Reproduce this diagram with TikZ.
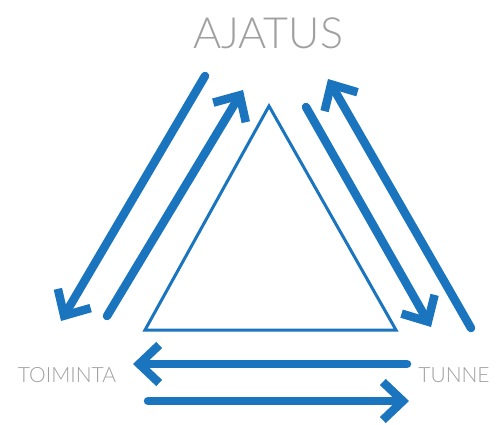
\documentclass[tikz,border=0pt]{standalone}
\usepackage{fontspec}
\setmainfont{Lato Light}
\usetikzlibrary{arrows.meta}
\definecolor{cblue}{RGB}{27,117,190}
\definecolor{cgrey}{RGB}{160,160,160}
\tikzset{
  flow/.style={draw=cblue, line width=8.5pt, line cap=round,
    -{Straight Barb[length=20pt,width=38pt,line width=8.5pt]}},
  lbl/.style={text=cgrey, inner sep=0pt, anchor=center},
  tri/.style={draw=cblue, line width=3pt, line join=miter}
}
\begin{document}
\begin{tikzpicture}[x=1pt,y=-1pt]
\useasboundingbox (0,0) rectangle (500,424);
\node[lbl, font=\fontsize{43}{43}\selectfont] (ajatus) at (268,33) {AJATUS};
\node[lbl, font=\fontsize{21}{21}\selectfont] (toiminta) at (67,375) {TOIMINTA};
\node[lbl, font=\fontsize{21}{21}\selectfont] (tunne) at (454,375) {TUNNE};
% triangle
\coordinate (ta) at (269,106);
\coordinate (tl) at (145,330);
\coordinate (tr) at (396,330);
\draw[tri] (ta) -- (tl) -- (tr) -- cycle;
% arrow end points
\coordinate (l1s) at (205,76);
\coordinate (l1e) at (61,321);
\coordinate (l2s) at (107,316);
\coordinate (l2e) at (243,90);
\coordinate (r1s) at (306,107);
\coordinate (r1e) at (431,327);
\coordinate (r2s) at (471,328);
\coordinate (r2e) at (328,79);
\coordinate (b1s) at (407,364);
\coordinate (b1e) at (133,364);
\coordinate (b2s) at (148,401);
\coordinate (b2e) at (409,401);
\draw[flow] (l1s) -- (l1e);
\draw[flow] (l2s) -- (l2e);
\draw[flow] (r1s) -- (r1e);
\draw[flow] (r2s) -- (r2e);
\draw[flow] (b1s) -- (b1e);
\draw[flow] (b2s) -- (b2e);
\end{tikzpicture}
\end{document}
